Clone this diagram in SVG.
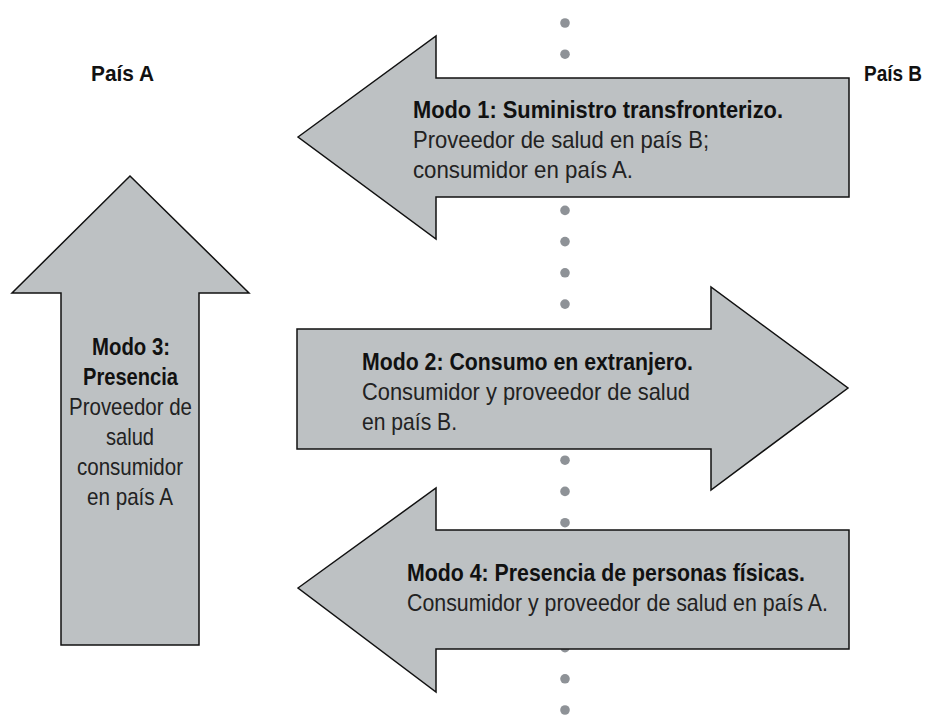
<svg xmlns="http://www.w3.org/2000/svg" width="934" height="717" viewBox="0 0 934 717">
<style>
.arrow{fill:#bdc1c3;stroke:#111;stroke-width:1.5;stroke-linejoin:miter}
.dot{fill:#8e9297}
text{font-family:"Liberation Sans",Arial,sans-serif;font-size:24px;fill:#222}
.b{font-weight:bold;fill:#111}
.lbl{font-size:22px}
</style>
<rect width="934" height="717" fill="#fff"/>
<g id="border">
<circle class="dot" cx="565" cy="23" r="4.8"/>
<circle class="dot" cx="565" cy="54.2" r="4.8"/>
<circle class="dot" cx="565" cy="85.5" r="4.8"/>
<circle class="dot" cx="565" cy="116.7" r="4.8"/>
<circle class="dot" cx="565" cy="147.9" r="4.8"/>
<circle class="dot" cx="565" cy="179.1" r="4.8"/>
<circle class="dot" cx="565" cy="210.4" r="4.8"/>
<circle class="dot" cx="565" cy="241.6" r="4.8"/>
<circle class="dot" cx="565" cy="272.8" r="4.8"/>
<circle class="dot" cx="565" cy="304.1" r="4.8"/>
<circle class="dot" cx="565" cy="335.3" r="4.8"/>
<circle class="dot" cx="565" cy="366.5" r="4.8"/>
<circle class="dot" cx="565" cy="397.8" r="4.8"/>
<circle class="dot" cx="565" cy="429" r="4.8"/>
<circle class="dot" cx="565" cy="460.2" r="4.8"/>
<circle class="dot" cx="565" cy="491.4" r="4.8"/>
<circle class="dot" cx="565" cy="522.7" r="4.8"/>
<circle class="dot" cx="565" cy="553.9" r="4.8"/>
<circle class="dot" cx="565" cy="585.1" r="4.8"/>
<circle class="dot" cx="565" cy="616.4" r="4.8"/>
<circle class="dot" cx="565" cy="647.6" r="4.8"/>
<circle class="dot" cx="565" cy="678.8" r="4.8"/>
<circle class="dot" cx="565" cy="710" r="4.8"/>
</g>
<g id="label-a"><text class="b lbl" x="91" y="81" textLength="63" lengthAdjust="spacingAndGlyphs">País A</text></g>
<g id="label-b"><text class="b lbl" x="864" y="81" textLength="58" lengthAdjust="spacingAndGlyphs">País B</text></g>
<g id="mode1">
<path class="arrow" d="M298,137 L436,36 L436,78 L849,78 L849,197 L436,197 L436,239 Z"/>
<text class="b" x="413" y="118" textLength="370" lengthAdjust="spacingAndGlyphs">Modo 1: Suministro transfronterizo.</text>
<text x="413" y="148" textLength="296" lengthAdjust="spacingAndGlyphs">Proveedor de salud en país B;</text>
<text x="413" y="178" textLength="220" lengthAdjust="spacingAndGlyphs">consumidor en país A.</text>
</g>
<g id="mode2">
<path class="arrow" d="M297,329 L711,329 L711,287 L848,388 L711,490 L711,449 L297,449 Z"/>
<text class="b" x="362" y="370" textLength="331" lengthAdjust="spacingAndGlyphs">Modo 2: Consumo en extranjero.</text>
<text x="362" y="400" textLength="328" lengthAdjust="spacingAndGlyphs">Consumidor y proveedor de salud</text>
<text x="362" y="430" textLength="95" lengthAdjust="spacingAndGlyphs">en país B.</text>
</g>
<g id="mode3">
<path class="arrow" d="M130,176 L249,293 L199,293 L199,645 L61,645 L61,293 L12,293 Z"/>
<text class="b" x="92" y="355" textLength="78" lengthAdjust="spacingAndGlyphs">Modo 3:</text>
<text class="b" x="83" y="385" textLength="95" lengthAdjust="spacingAndGlyphs">Presencia</text>
<text x="69" y="415" textLength="123" lengthAdjust="spacingAndGlyphs">Proveedor de</text>
<text x="106" y="445" textLength="48" lengthAdjust="spacingAndGlyphs">salud</text>
<text x="77" y="475" textLength="106" lengthAdjust="spacingAndGlyphs">consumidor</text>
<text x="87" y="505" textLength="86" lengthAdjust="spacingAndGlyphs">en país A</text>
</g>
<g id="mode4">
<path class="arrow" d="M298,588 L436,488 L436,530 L849,530 L849,649 L436,649 L436,692 Z"/>
<text class="b" x="407" y="581" textLength="398" lengthAdjust="spacingAndGlyphs">Modo 4: Presencia de personas físicas.</text>
<text x="407" y="611" textLength="421" lengthAdjust="spacingAndGlyphs">Consumidor y proveedor de salud en país A.</text>
</g>
<g id="connectors"></g>
</svg>
